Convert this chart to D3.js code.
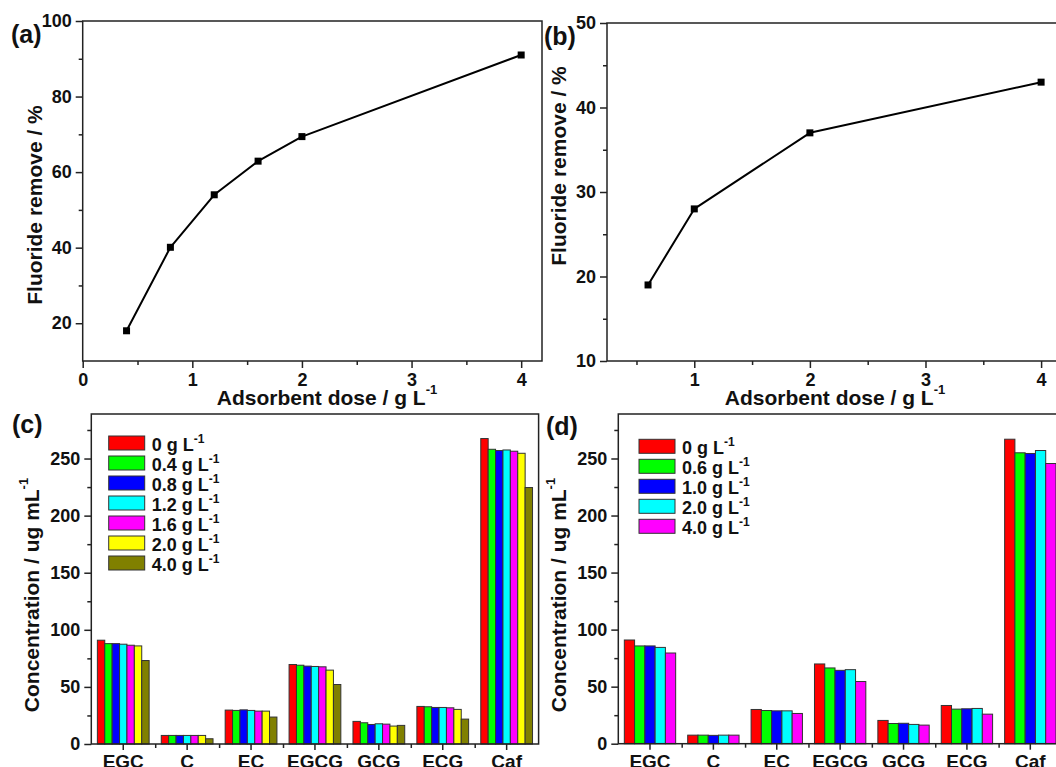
<!DOCTYPE html>
<html lang="en">
<head>
    <meta charset="UTF-8">
    <title>Fluoride removal and catechin concentration</title>
    <script src="https://d3js.org/d3.v7.min.js"></script>
    <style type="text/css">
        body { margin: 0; background: #fff; }
        svg { font-family: "Liberation Sans", Arial, sans-serif; font-weight: bold; }
        .axis text { font-size: 18px; font-weight: bold; fill: #111; }
        .axis line { stroke: #222; stroke-width: 1.5px; }
        .cat text { font-size: 19px; }
        .frame { fill: none; stroke: #222; stroke-width: 1.5px; }
        .line { fill: none; stroke: #000; stroke-width: 2px; stroke-linejoin: round; }
        .title { font-size: 21px; fill: #111; }
        .letter { font-size: 25px; fill: #111; }
        .legend text { font-size: 18px; fill: #111; }
        .bar { stroke: #333; stroke-width: 1px; }
    </style>
</head>
<body>
    <script type="text/javascript">
        // (a) and (b): fluoride removal vs adsorbent dose
        const doseA = [0.4, 0.8, 1.2, 1.6, 2.0, 4.0];
        const removeA = [18.0, 40.1, 54.0, 62.9, 69.4, 91.0];
        const doseB = [0.6, 1.0, 2.0, 4.0];
        const removeB = [19.0, 28.0, 37.0, 43.0];

        // (c) and (d): concentration of each compound, one row per dose
        const compounds = ["EGC", "C", "EC", "EGCG", "GCG", "ECG", "Caf"];
        const dosesC = ["0", "0.4", "0.8", "1.2", "1.6", "2.0", "4.0"];
        const concC = [
            [90.9, 7.5, 29.7, 69.6, 19.8, 32.9, 267.5],
            [87.9, 7.5, 29.4, 69.0, 18.6, 32.6, 258.1],
            [87.9, 7.5, 29.9, 68.2, 17.1, 32.0, 257.0],
            [87.4, 7.5, 29.4, 67.9, 17.7, 32.0, 257.5],
            [86.5, 7.5, 28.8, 67.6, 17.4, 31.7, 256.4],
            [85.9, 7.5, 28.8, 64.7, 15.7, 30.3, 254.6],
            [73.1, 4.6, 23.6, 52.1, 16.3, 21.8, 224.6]
        ];
        const dosesD = ["0", "0.6", "1.0", "2.0", "4.0"];
        const concD = [
            [90.9, 7.5, 30.0, 69.9, 20.4, 33.5, 266.9],
            [85.7, 7.5, 29.1, 66.4, 17.7, 30.3, 255.0],
            [85.7, 7.3, 28.8, 64.3, 17.9, 30.6, 254.4],
            [84.4, 7.5, 28.8, 64.9, 16.9, 30.9, 257.0],
            [79.5, 7.5, 26.5, 54.5, 16.3, 25.9, 245.6]
        ];
        const barColors = ["#ff0000", "#00ff00", "#0000ff", "#00ffff", "#ff00ff", "#ffff00", "#808000"];

        const svg = d3.select("body")
            .append("svg")
            .attr("width", 1056)
            .attr("height", 767);

        function addAxis(g, axis, transform) {
            g.append("g")
                .attr("class", "axis")
                .attr("transform", transform)
                .call(axis)
                .call(a => a.select(".domain").remove());
        }

        function linePanel(p) {
            const x = d3.scaleLinear().domain(p.xDomain).range([p.left, p.right]);
            const y = d3.scaleLinear().domain(p.yDomain).range([p.bottom, p.top]);
            const g = svg.append("g");

            addAxis(g, d3.axisBottom(x).tickValues(p.xMinor).tickSize(4).tickFormat(""), `translate(0,${p.bottom})`);
            addAxis(g, d3.axisBottom(x).tickValues(p.xTicks).tickSize(7).tickPadding(5).tickFormat(d3.format("d")), `translate(0,${p.bottom})`);
            addAxis(g, d3.axisLeft(y).tickValues(p.yMinor).tickSize(4).tickFormat(""), `translate(${p.left},0)`);
            addAxis(g, d3.axisLeft(y).tickValues(p.yTicks).tickSize(7).tickPadding(4).tickFormat(d3.format("d")), `translate(${p.left},0)`);

            g.append("rect")
                .attr("class", "frame")
                .attr("x", p.left)
                .attr("y", p.top)
                .attr("width", p.right - p.left)
                .attr("height", p.bottom - p.top);

            const pts = p.xs.map((d, i) => [d, p.ys[i]]);
            g.append("path")
                .datum(pts)
                .attr("class", "line")
                .attr("d", d3.line().x(d => x(d[0])).y(d => y(d[1])));

            g.selectAll("rect.pt")
                .data(pts)
                .join("rect")
                .attr("class", "pt")
                .attr("x", d => x(d[0]) - 3.5)
                .attr("y", d => y(d[1]) - 3.5)
                .attr("width", 7)
                .attr("height", 7)
                .attr("fill", "#000");

            const xt = g.append("text")
                .attr("class", "title")
                .attr("x", p.xTitleX)
                .attr("y", 405)
                .attr("text-anchor", "middle")
                .text("Adsorbent dose / g L");
            xt.append("tspan").attr("font-size", 13).attr("dy", -11).text("-1");

            g.append("text")
                .attr("class", "title")
                .attr("transform", `translate(${p.yTitleX},${p.yTitleY}) rotate(-90)`)
                .attr("text-anchor", "middle")
                .text("Fluoride remove / %");

            g.append("text")
                .attr("class", "letter")
                .attr("x", p.letterX)
                .attr("y", p.letterY)
                .text(p.letter);
        }

        function barPanel(p) {
            const x0 = d3.scaleBand().domain(compounds).range([p.left, p.right])
                .paddingInner(0.19).paddingOuter(0.095);
            const x1 = d3.scaleBand().domain(p.doses).range([0, x0.bandwidth()]);
            const xEdge = d3.scaleLinear().domain([0, compounds.length]).range([p.left, p.right]);
            const y = d3.scaleLinear().domain([0, 289]).range([p.bottom, p.top]);
            const g = svg.append("g");

            p.values.forEach((row, i) => {
                g.selectAll(null)
                    .data(row)
                    .join("rect")
                    .attr("class", "bar")
                    .attr("fill", barColors[i])
                    .attr("x", (d, j) => x0(compounds[j]) + x1(p.doses[i]))
                    .attr("y", d => y(d))
                    .attr("width", x1.bandwidth())
                    .attr("height", d => y(0) - y(d));
            });

            addAxis(g, d3.axisBottom(xEdge).tickValues(d3.range(1, compounds.length)).tickSize(4).tickFormat(""), `translate(0,${p.bottom})`);
            g.append("g")
                .attr("class", "axis cat")
                .attr("transform", `translate(0,${p.bottom})`)
                .call(d3.axisBottom(x0).tickSize(6).tickPadding(5))
                .call(a => a.select(".domain").remove());
            addAxis(g, d3.axisLeft(y).tickValues(d3.range(25, 290, 50)).tickSize(4).tickFormat(""), `translate(${p.left},0)`);
            addAxis(g, d3.axisLeft(y).tickValues(d3.range(0, 251, 50)).tickSize(7).tickPadding(4), `translate(${p.left},0)`);

            g.append("rect")
                .attr("class", "frame")
                .attr("x", p.left)
                .attr("y", p.top)
                .attr("width", p.right - p.left)
                .attr("height", p.bottom - p.top);

            const lg = g.append("g").attr("class", "legend");
            p.doses.forEach((d, i) => {
                lg.append("rect")
                    .attr("class", "bar")
                    .attr("fill", barColors[i])
                    .attr("x", p.legendX)
                    .attr("y", p.legendY + i * 20)
                    .attr("width", 36)
                    .attr("height", 14);
                const t = lg.append("text")
                    .attr("x", p.legendX + 43)
                    .attr("y", p.legendY + i * 20 + 14.5)
                    .text(d + " g L");
                t.append("tspan").attr("font-size", 12).attr("dy", -8).text("-1");
            });

            const yt = g.append("text")
                .attr("class", "title")
                .attr("transform", `translate(${p.yTitleX},${p.yTitleY}) rotate(-90)`)
                .attr("text-anchor", "middle")
                .text("Concentration / ug mL");
            yt.append("tspan").attr("font-size", 13).attr("dy", -11).text("-1");

            g.append("text")
                .attr("class", "letter")
                .attr("x", p.letterX)
                .attr("y", p.letterY)
                .text(p.letter);
        }

        linePanel({
            left: 82.7, right: 542, top: 21, bottom: 361,
            xDomain: [0, 4.19], yDomain: [10, 100],
            xTicks: [0, 1, 2, 3, 4], xMinor: [0.5, 1.5, 2.5, 3.5],
            yTicks: [20, 40, 60, 80, 100], yMinor: [30, 50, 70, 90],
            xs: doseA, ys: removeA,
            xTitleX: 327, yTitleX: 42, yTitleY: 205,
            letter: "(a)", letterX: 11, letterY: 43
        });

        linePanel({
            left: 607, right: 1070, top: 23, bottom: 361,
            xDomain: [0.245, 4.25], yDomain: [10, 50],
            xTicks: [1, 2, 3, 4], xMinor: [0.5, 1.5, 2.5, 3.5],
            yTicks: [10, 20, 30, 40, 50], yMinor: [15, 25, 35, 45],
            xs: doseB, ys: removeB,
            xTitleX: 835, yTitleX: 566, yTitleY: 166,
            letter: "(b)", letterX: 544, letterY: 45
        });

        barPanel({
            left: 91.3, right: 538.6, top: 414, bottom: 744,
            doses: dosesC, values: concC,
            legendX: 108.7, legendY: 436,
            yTitleX: 39, yTitleY: 595,
            letter: "(c)", letterX: 12, letterY: 433
        });

        barPanel({
            left: 618.3, right: 1062, top: 414, bottom: 743.7,
            doses: dosesD, values: concD,
            legendX: 639, legendY: 439.3,
            yTitleX: 566, yTitleY: 595,
            letter: "(d)", letterX: 546, letterY: 435
        });
    </script>
</body>
</html>
